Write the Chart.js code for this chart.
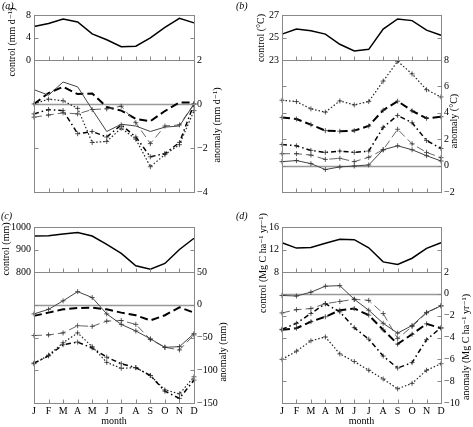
<!DOCTYPE html>
<html>
<head>
<meta charset="utf-8">
<script src="https://cdn.jsdelivr.net/npm/chart.js@4/dist/chart.umd.min.js"></script>
<style>
  body { margin: 0; background: #fff; }
  #wrap { position: relative; width: 473px; height: 427px; background: #fff; }
  #wrap canvas { position: absolute; left: 0; top: 0; }
</style>
</head>
<body>
<div id="wrap">
  <canvas id="aTop" width="473" height="427"></canvas>
  <canvas id="aBot" width="473" height="427"></canvas>
  <canvas id="bTop" width="473" height="427"></canvas>
  <canvas id="bBot" width="473" height="427"></canvas>
  <canvas id="cTop" width="473" height="427"></canvas>
  <canvas id="cBot" width="473" height="427"></canvas>
  <canvas id="dTop" width="473" height="427"></canvas>
  <canvas id="dBot" width="473" height="427"></canvas>
</div>
<script>
const months = ["J", "F", "M", "A", "M", "J", "J", "A", "S", "O", "N", "D"];

// (a) precipitation, mm/day
const precipControl = [5.95, 6.5, 7.3, 6.75, 4.65, 3.6, 2.35, 2.45, 3.95, 5.8, 7.4, 6.6];
const precipSolid = [0.65, 0.4, 1.0, 0.78, -0.25, -1.25, -0.92, -1.0, -1.25, -1.05, -1.0, 0.0];
const precipDashed = [0.0, 0.5, 0.78, 0.45, 0.48, -0.14, -0.3, -0.68, -0.78, -0.32, 0.07, 0.07];
const precipDotted = [0.0, 0.22, 0.15, -0.2, -1.75, -1.7, -1.1, -1.6, -2.85, -2.3, -1.85, -0.3];
const precipDashDot = [-0.45, -0.25, -0.3, -1.35, -1.25, -1.5, -0.95, -1.5, -2.4, -2.25, -1.75, 0.0];
const precipLongDash = [-0.6, -0.5, -0.4, -0.45, -0.25, -0.22, -0.1, -0.85, -1.8, -1.0, -0.95, 0.0];

// (b) temperature, deg C
const tempControl = [25.3, 25.75, 25.6, 25.3, 24.4, 23.8, 23.95, 25.75, 26.65, 26.5, 25.65, 25.2];
const tempSolid = [0.3, 0.38, 0.15, -0.3, -0.1, -0.03, 0.05, 1.2, 1.5, 1.2, 0.75, 0.35];
const tempDashed = [3.65, 3.53, 3.1, 2.65, 2.6, 2.65, 3.0, 4.2, 4.88, 4.15, 3.58, 3.7];
const tempDotted = [4.95, 4.85, 4.3, 4.05, 4.9, 4.6, 4.85, 6.4, 7.9, 6.95, 5.75, 5.2];
const tempDashDot = [1.6, 1.5, 1.15, 1.0, 1.1, 1.0, 1.1, 2.9, 3.8, 3.25, 1.9, 1.3];
const tempLongDash = [0.9, 0.9, 0.8, 0.47, 0.55, 0.3, 0.63, 1.2, 2.75, 1.65, 1.0, 0.6];

// (c) soil moisture, mm
const soilControl = [960, 961, 969, 976, 960, 923, 883, 828, 812, 838, 900, 950];
const soilSolid = [-14, -7, 6, 20, 11, -14, -30, -40, -52, -65, -64, -44];
const soilDashed = [-17, -12, -7, -5, -4.5, -7, -12, -16, -24, -16, -4, -12];
const soilDotted = [-90, -77, -58, -43, -64, -88, -97, -96, -108, -130, -136, -110];
const soilDashDot = [-89, -78, -61, -57, -66, -80, -90, -96, -108, -132, -143, -115];
const soilLongDash = [-47, -46, -43, -32, -33, -25, -24, -30, -53, -65, -69, -46];

// (d) net primary productivity, Mg C/ha/yr
const nppControl = [13.2, 12.25, 12.35, 13.1, 13.8, 13.75, 12.3, 9.8, 9.35, 10.45, 12.2, 13.2];
const nppSolid = [-0.15, -0.2, 0.15, 0.7, 0.75, -0.5, -1.5, -2.7, -3.6, -2.9, -1.7, -1.1];
const nppDashed = [-3.3, -3.15, -2.55, -2.1, -1.5, -1.35, -1.95, -3.3, -4.6, -3.7, -2.75, -3.15];
const nppDotted = [-6.0, -5.25, -4.3, -3.95, -5.5, -6.2, -7.0, -7.8, -8.7, -8.2, -7.0, -6.4];
const nppDashDot = [-3.25, -2.7, -1.8, -0.9, -1.65, -3.1, -4.15, -5.7, -6.8, -6.3, -4.2, -3.1];
const nppLongDash = [-1.75, -1.45, -1.35, -0.9, -0.7, -0.5, -0.6, -1.8, -4.1, -3.0, -1.75, -1.1];

// tick values
const precipControlTicks = [0, 2, 4, 6, 8];
const precipAnomTicks = [-4, -2, 0, 2];
const tempControlTicks = [23, 24, 25, 26, 27];
const tempAnomTicks = [-2, 0, 2, 4, 6, 8];
const soilControlTicks = [800, 850, 900, 950, 1000];
const soilAnomTicks = [-150, -100, -50, 0, 50];
const nppControlTicks = [8, 10, 12, 14, 16];
const nppAnomTicks = [-10, -8, -6, -4, -2, 0, 2];

const FONT = '"Liberation Serif", "DejaVu Serif", serif';
const FRAME = "#888";

const styles = {
  control:  { borderColor: "#000", borderWidth: 1.5, borderDash: [] },
  solid:    { borderColor: "#444", borderWidth: 1, borderDash: [] },
  dashed:   { borderColor: "#000", borderWidth: 2, borderDash: [8, 4] },
  dotted:   { borderColor: "#222", borderWidth: 1.2, borderDash: [1.5, 2] },
  dashDot:  { borderColor: "#000", borderWidth: 1.5, borderDash: [5, 3, 1.5, 3] },
  longDash: { borderColor: "#666", borderWidth: 1, borderDash: [8, 4] },
};

function line(data, style, marks) {
  const s = styles[style];
  return {
    data: data,
    borderColor: s.borderColor,
    borderWidth: s.borderWidth,
    borderDash: s.borderDash,
    fill: false,
    tension: 0,
    pointStyle: "cross",
    pointRadius: marks ? 2.5 : 0,
    pointBorderColor: "#333",
    pointBorderWidth: 0.8,
    pointHoverRadius: 0,
  };
}

// frame, inward ticks, zero line and free texts
const framePlugin = {
  id: "frame",
  beforeDatasetsDraw(chart, args, o) {
    const { ctx, chartArea: a, scales: { y } } = chart;
    if (o.zero) {
      const py = Math.round(y.getPixelForValue(0)) + 0.5;
      ctx.save();
      ctx.strokeStyle = "#999";
      ctx.lineWidth = 1.3;
      ctx.beginPath();
      ctx.moveTo(a.left, py);
      ctx.lineTo(a.right, py);
      ctx.stroke();
      ctx.restore();
    }
  },
  afterDraw(chart, args, o) {
    const { ctx, chartArea: a, scales: { x, y } } = chart;
    const L = Math.round(a.left) + 0.5, R = Math.round(a.right) + 0.5;
    const T = Math.round(a.top) + 0.5, B = Math.round(a.bottom) + 0.5;
    ctx.save();
    ctx.strokeStyle = FRAME;
    ctx.lineWidth = 1;
    ctx.strokeRect(L, T, R - L, B - T);
    ctx.beginPath();
    x.ticks.forEach((t, i) => {
      const px = Math.round(x.getPixelForTick(i)) + 0.5;
      ctx.moveTo(px, B);
      ctx.lineTo(px, B - 4);
    });
    y.ticks.forEach((t, i) => {
      const py = Math.round(y.getPixelForTick(i)) + 0.5;
      ctx.moveTo(L, py);
      ctx.lineTo(L + 4, py);
      ctx.moveTo(R, py);
      ctx.lineTo(R - 4, py);
    });
    ctx.stroke();
    ctx.fillStyle = "#000";
    (o.texts || []).forEach(t => {
      ctx.save();
      ctx.font = (t.italic ? "italic " : "") + "10px " + FONT;
      ctx.translate(t.x, t.y);
      if (t.rot) ctx.rotate(-Math.PI / 2);
      ctx.textAlign = t.align || "center";
      ctx.textBaseline = "middle";
      ctx.fillText(t.text, 0, 0);
      ctx.restore();
    });
    ctx.restore();
  },
};

const fmt = v => (v < 0 ? "\u2212" + Math.abs(v) : String(v));

function makeChart(id, p) {
  const W = 473, H = 427, AXW = 28, XH = p.months ? 24 : 0;
  const padding = {
    left: p.left - (p.yPos === "left" ? AXW : 0),
    right: W - p.right - (p.yPos === "right" ? AXW : 0),
    top: p.top,
    bottom: H - p.bottom - XH,
  };
  new Chart(document.getElementById(id), {
    type: "line",
    data: { labels: months, datasets: p.datasets },
    options: {
      responsive: false,
      animation: false,
      devicePixelRatio: 1,
      layout: { padding: padding },
      plugins: {
        legend: { display: false },
        tooltip: { enabled: false },
        frame: { zero: p.zero, texts: p.texts },
      },
      scales: {
        x: {
          type: "category",
          offset: false,
          display: !!p.months,
          grid: { display: false, drawTicks: false },
          border: { display: false },
          ticks: {
            maxRotation: 0,
            autoSkip: false,
            padding: 2,
            color: "#000",
            font: { family: FONT, size: 10 },
          },
          title: {
            display: !!p.months,
            text: "month",
            color: "#000",
            padding: 0,
            font: { family: FONT, size: 10 },
          },
          afterFit: s => { s.height = XH; },
        },
        y: {
          position: p.yPos,
          min: p.ticks[0],
          max: p.ticks[p.ticks.length - 1],
          grid: { display: false, drawTicks: false },
          border: { display: false },
          ticks: {
            padding: 3,
            color: "#000",
            font: { family: FONT, size: 10 },
            callback: v => fmt(v),
          },
          afterBuildTicks: s => { s.ticks = p.ticks.map(v => ({ value: v })); },
          afterFit: s => { s.width = AXW; },
        },
      },
    },
    plugins: [framePlugin],
  });
}

function anomalySets(solid, dashed, dotted, dashDot, longDash, marks) {
  return [
    line(solid, "solid", marks[0]),
    line(longDash, "longDash", marks[4]),
    line(dashDot, "dashDot", marks[3]),
    line(dotted, "dotted", marks[2]),
    line(dashed, "dashed", marks[1]),
  ];
}

// (a)
makeChart("aTop", {
  left: 34, right: 194, top: 15, bottom: 60, yPos: "left",
  ticks: precipControlTicks,
  datasets: [line(precipControl, "control", false)],
  texts: [
    { text: "(a)", x: 2, y: 6, italic: true, align: "left" },
    { text: "control (mm d\u207B\u00B9)", x: 12, y: 42, rot: true },
  ],
});
makeChart("aBot", {
  left: 34, right: 194, top: 60, bottom: 192, yPos: "right", zero: true,
  ticks: precipAnomTicks,
  datasets: anomalySets(precipSolid, precipDashed, precipDotted, precipDashDot, precipLongDash,
    [false, false, true, true, true]),
  texts: [{ text: "anomaly (mm d\u207B\u00B9)", x: 217, y: 125, rot: true }],
});

// (b)
makeChart("bTop", {
  left: 282, right: 441, top: 15, bottom: 60, yPos: "left",
  ticks: tempControlTicks,
  datasets: [line(tempControl, "control", false)],
  texts: [
    { text: "(b)", x: 236, y: 6, italic: true, align: "left" },
    { text: "control (\u00B0C)", x: 261, y: 38, rot: true },
  ],
});
makeChart("bBot", {
  left: 282, right: 441, top: 60, bottom: 192, yPos: "right", zero: true,
  ticks: tempAnomTicks,
  datasets: anomalySets(tempSolid, tempDashed, tempDotted, tempDashDot, tempLongDash,
    [true, true, true, true, true]),
  texts: [{ text: "anomaly (\u00B0C)", x: 454, y: 121, rot: true }],
});

// (c)
makeChart("cTop", {
  left: 34, right: 194, top: 227, bottom: 272, yPos: "left",
  ticks: soilControlTicks,
  datasets: [line(soilControl, "control", false)],
  texts: [
    { text: "(c)", x: 1, y: 216, italic: true, align: "left" },
    { text: "control (mm)", x: 6, y: 249, rot: true },
  ],
});
makeChart("cBot", {
  left: 34, right: 194, top: 272, bottom: 403, yPos: "right", zero: true, months: true,
  ticks: soilAnomTicks,
  datasets: anomalySets(soilSolid, soilDashed, soilDotted, soilDashDot, soilLongDash,
    [true, false, true, true, true]),
  texts: [{ text: "anomaly (mm)", x: 223, y: 352, rot: true }],
});

// (d)
makeChart("dTop", {
  left: 282, right: 441, top: 227, bottom: 272, yPos: "left",
  ticks: nppControlTicks,
  datasets: [line(nppControl, "control", false)],
  texts: [
    { text: "(d)", x: 236, y: 216, italic: true, align: "left" },
    { text: "control (Mg C ha\u207B\u00B9 yr\u207B\u00B9)", x: 263, y: 263, rot: true },
  ],
});
makeChart("dBot", {
  left: 282, right: 441, top: 272, bottom: 403, yPos: "right", zero: true, months: true,
  ticks: nppAnomTicks,
  datasets: anomalySets(nppSolid, nppDashed, nppDotted, nppDashDot, nppLongDash,
    [true, true, true, true, true]),
  texts: [{ text: "anomaly (Mg C ha\u207B\u00B9 yr\u207B\u00B9)", x: 466, y: 347, rot: true }],
});
</script>
</body>
</html>
